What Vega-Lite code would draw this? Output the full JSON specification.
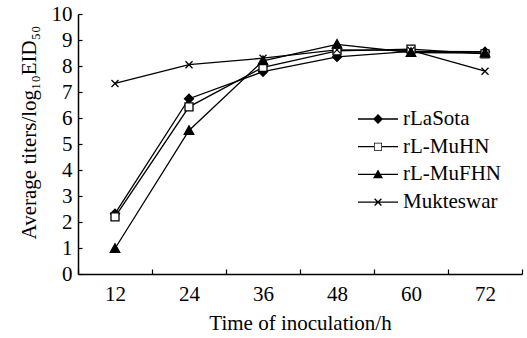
{
  "$schema": "https://vega.github.io/schema/vega-lite/v6.json",
  "width": 444,
  "height": 260,
  "autosize": {"type": "none"},
  "padding": {"left": 78, "top": 14, "right": 5, "bottom": 64},
  "background": "white",
  "config": {
    "view": {"stroke": null},
    "font": "Liberation Serif",
    "axis": {"grid": false, "domainColor": "black", "domainWidth": 1.5, "tickColor": "black", "tickWidth": 1.2, "labelColor": "black", "titleColor": "black", "labelFont": "Liberation Serif", "titleFont": "Liberation Serif", "labelFontSize": 21, "titleFontSize": 21, "titleFontWeight": "normal"},
    "legend": {"labelFont": "Liberation Serif", "labelFontSize": 21, "labelColor": "black"}
  },
  "data": {
    "values": [
      {"hour": "12", "series": "rLaSota", "titer": 2.32},
      {"hour": "24", "series": "rLaSota", "titer": 6.74},
      {"hour": "36", "series": "rLaSota", "titer": 7.78},
      {"hour": "48", "series": "rLaSota", "titer": 8.35},
      {"hour": "60", "series": "rLaSota", "titer": 8.56},
      {"hour": "72", "series": "rLaSota", "titer": 8.55},
      {"hour": "12", "series": "rL-MuHN", "titer": 2.2},
      {"hour": "24", "series": "rL-MuHN", "titer": 6.43},
      {"hour": "36", "series": "rL-MuHN", "titer": 7.95},
      {"hour": "48", "series": "rL-MuHN", "titer": 8.58},
      {"hour": "60", "series": "rL-MuHN", "titer": 8.65},
      {"hour": "72", "series": "rL-MuHN", "titer": 8.47},
      {"hour": "12", "series": "rL-MuFHN", "titer": 0.98},
      {"hour": "24", "series": "rL-MuFHN", "titer": 5.52},
      {"hour": "36", "series": "rL-MuFHN", "titer": 8.2},
      {"hour": "48", "series": "rL-MuFHN", "titer": 8.83},
      {"hour": "60", "series": "rL-MuFHN", "titer": 8.52},
      {"hour": "72", "series": "rL-MuFHN", "titer": 8.5},
      {"hour": "12", "series": "Mukteswar", "titer": 7.33},
      {"hour": "24", "series": "Mukteswar", "titer": 8.05},
      {"hour": "36", "series": "Mukteswar", "titer": 8.3},
      {"hour": "48", "series": "Mukteswar", "titer": 8.62},
      {"hour": "60", "series": "Mukteswar", "titer": 8.6},
      {"hour": "72", "series": "Mukteswar", "titer": 7.8}
    ]
  },
  "encoding": {
    "x": {
      "field": "hour", "type": "ordinal", "sort": ["12", "24", "36", "48", "60", "72"],
      "scale": {"type": "band", "paddingInner": 0, "paddingOuter": 0},
      "axis": {"title": "Time of inoculation/h", "labelAngle": 0, "tickBand": "extent", "tickSize": -5, "labelPadding": 14, "titlePadding": 8}
    },
    "y": {
      "field": "titer", "type": "quantitative",
      "scale": {"domain": [0, 10], "nice": false, "zero": true},
      "axis": {"title": "Average titers/log₁₀EID₅₀", "values": [0,1,2,3,4,5,6,7,8,9,10], "tickSize": -4, "labelPadding": 10, "titlePadding": 12, "titleY": 118}
    }
  },
  "layer": [
    {
      "mark": {"type": "line", "color": "black", "strokeWidth": 1.3},
      "encoding": {"detail": {"field": "series"}}
    },
    {
      "mark": {"type": "point", "filled": false, "strokeWidth": 1.3, "stroke": "black", "opacity": 1},
      "encoding": {
        "shape": {
          "field": "series", "type": "nominal",
          "scale": {
            "domain": ["rLaSota", "rL-MuHN", "rL-MuFHN", "Mukteswar"],
            "range": ["M0,-0.9L0.9,0L0,0.9L-0.9,0Z", "M-0.8,-0.8H0.8V0.8H-0.8Z", "M0,-0.95L0.95,0.75L-0.95,0.75Z", "M-0.7,-0.7L0.7,0.7M-0.7,0.7L0.7,-0.7"]
          },
          "legend": null
        },
        "fill": {
          "condition": {"test": "datum.series === 'rL-MuHN'", "value": "white"},
          "value": "black"
        },
        "size": {"value": 100}
      }
    },
    {
      "transform": [{"filter": "datum.titer < -1"}],
      "mark": {"type": "point", "filled": true, "color": "black", "opacity": 1},
      "encoding": {
        "shape": {
          "field": "series", "type": "nominal",
          "scale": {
            "domain": ["rLaSota", "rL-MuHN", "rL-MuFHN", "Mukteswar"],
            "range": [
              "M-1,-0.032H1V0.032H-1ZM0,-0.25L0.25,0L0,0.25L-0.25,0Z",
              "M-1,-0.032H-0.2V0.032H-1ZM0.2,-0.032H1V0.032H0.2ZM-0.2,-0.2H0.2V0.2H-0.2ZM-0.165,-0.165V0.165H0.165V-0.165Z",
              "M-1,-0.032H1V0.032H-1ZM0,-0.25L0.25,0.19L-0.25,0.19Z",
              "M-1,-0.032H1V0.032H-1ZM-0.147,-0.193L0.193,0.147L0.147,0.193L-0.193,-0.147ZM-0.193,0.147L0.147,-0.193L0.193,-0.147L-0.147,0.193Z"
            ]
          },
          "legend": {
            "title": null,
            "orient": "none",
            "legendX": 279,
            "legendY": 93,
            "symbolSize": 1600,
            "symbolFillColor": "black",
            "symbolOpacity": 1,
            "clipHeight": 24,
            "rowPadding": 3.7,
            "labelOffset": 4
          }
        },
        "size": {"value": 1600}
      }
    }
  ],
  "resolve": {"scale": {"shape": "independent"}, "legend": {"shape": "independent"}}
}
